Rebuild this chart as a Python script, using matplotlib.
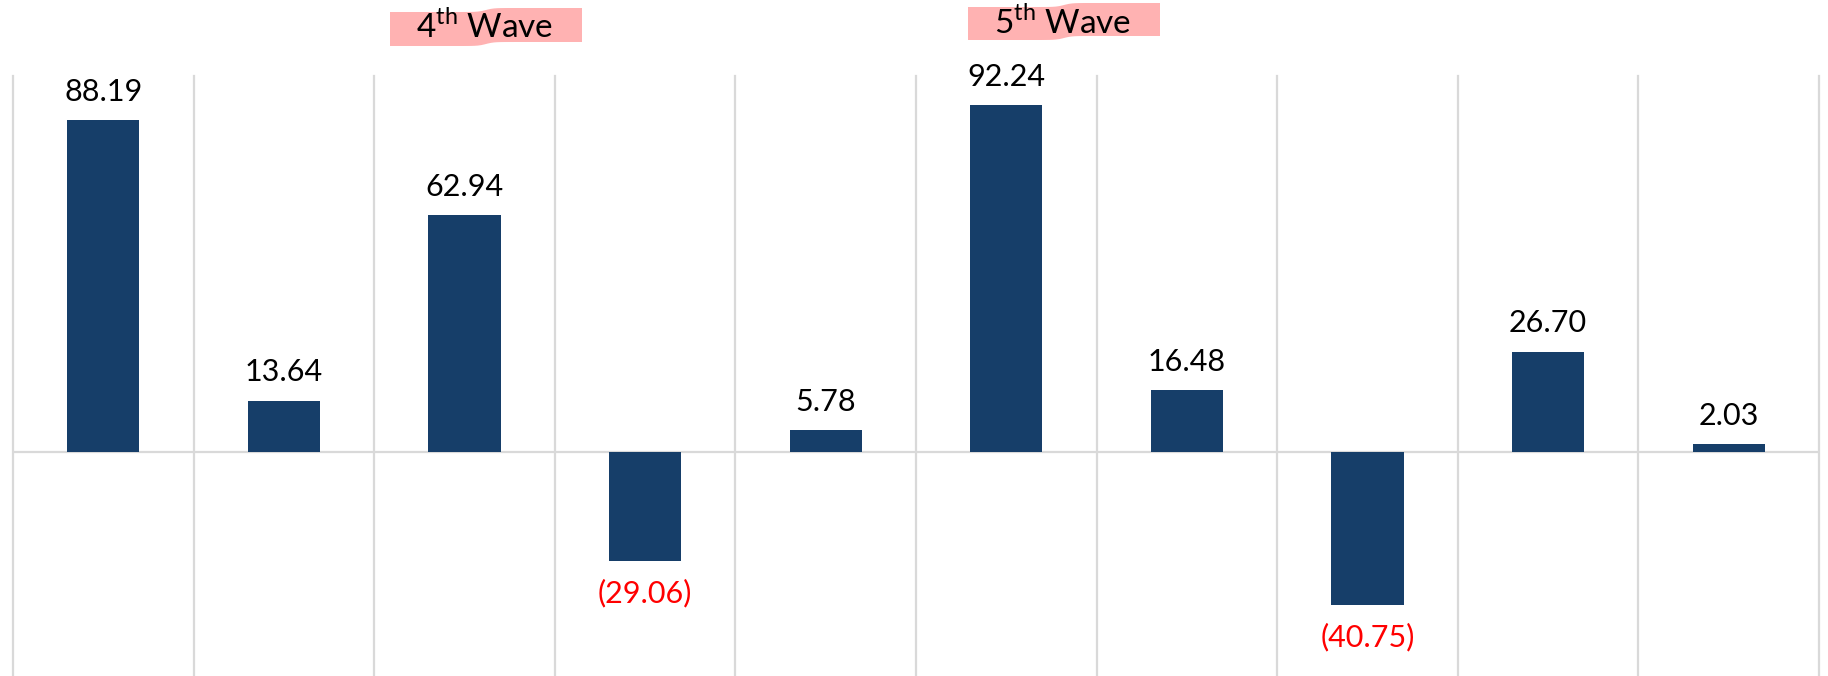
import numpy as np
import matplotlib.pyplot as plt
from matplotlib.patches import Polygon

plt.rcParams['font.family'] = ['Lato', 'DejaVu Sans']
plt.rcParams['mathtext.fontset'] = 'custom'
plt.rcParams['mathtext.rm'] = 'Lato'

# Nilai per periode
values = [88.19, 13.64, 62.94, -29.06, 5.78, 92.24, 16.48, -40.75, 26.70, 2.03]

bar_color = '#163e69'
grid_color = '#d9d9d9'

W, H = 1828, 676
fig = plt.figure(figsize=(W / 100, H / 100), dpi=100)
ax = fig.add_axes([13 / W, 0, (1819 - 13) / W, 600 / H])

x = np.arange(len(values))
ax.bar(x, values, width=0.4, color=bar_color, zorder=3)

ax.set_xlim(-0.5, len(values) - 0.5)
ax.set_ylim(-59.6, 100)

# garis pemisah antar kategori dan garis nol
for b in np.arange(-0.5, len(values), 1.0):
    ax.axvline(b, color=grid_color, lw=1.6, zorder=1, clip_on=False)
ax.axhline(0, color=grid_color, lw=1.6, zorder=2)

for s in ax.spines.values():
    s.set_visible(False)
ax.set_xticks([])
ax.set_yticks([])

# label nilai
for xi, v in zip(x, values):
    if v >= 0:
        ax.annotate(f'{v:.2f}', (xi, v), xytext=(0, 14), textcoords='offset points',
                    ha='center', va='baseline', fontsize=22, color='black')
    else:
        ax.annotate(f'({abs(v):.2f})', (xi, v), xytext=(0, -13), textcoords='offset points',
                    ha='center', va='top', fontsize=22, color='red')


def px(xp, yp):
    return xp / W, 1 - yp / H


# sorotan merah muda bergelombang di belakang judul gelombang
def wave_label(x0, x1, y_top, y_bot, text, tx, ty):
    t = np.linspace(0, 1, 60)
    step = 0.5 * (1 + np.tanh((t - 0.5) / 0.04))
    xs = x0 + (x1 - x0) * t
    top = y_top - 4 * step
    bot = y_bot - 4 * step
    pts = [px(a, b) for a, b in zip(xs, top)] + [px(a, b) for a, b in zip(xs[::-1], bot[::-1])]
    fig.add_artist(Polygon(pts, closed=True, transform=fig.transFigure,
                           facecolor='#ffb2b2', edgecolor='none'))
    fx, fy = px(tx, ty)
    fig.text(fx, fy, text, ha='center', va='baseline', fontsize=24, color='black')


wave_label(390, 582, 12, 46, r'4$^{\mathrm{th}}$ Wave', 485, 38)
wave_label(968, 1160, 7, 40, r'5$^{\mathrm{th}}$ Wave', 1063, 34)

fig.savefig('out.png', dpi=100, facecolor='white')
